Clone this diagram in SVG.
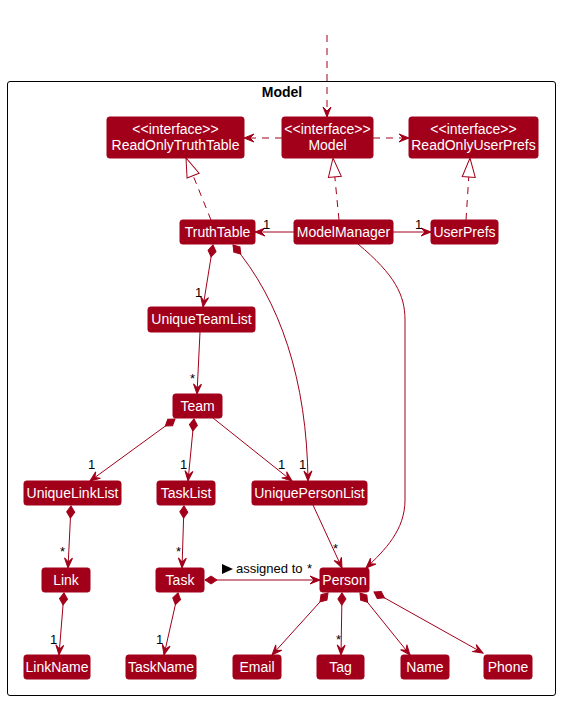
<svg xmlns="http://www.w3.org/2000/svg" width="561" height="701" viewBox="0 0 561 701">
<style>
.n rect{fill:#A2001A;stroke:#A2001A;stroke-width:1}
.n text{fill:#FFFFFF;font-family:"Liberation Sans",Arial,sans-serif;font-size:14px;text-anchor:middle}
.e{fill:none;stroke:#A2001A;stroke-width:1}
.d{stroke-dasharray:7,6}
.l{fill:#000;font-family:"Liberation Sans",Arial,sans-serif;font-size:13px}
</style>
<defs>
<marker id="arr" markerUnits="userSpaceOnUse" markerWidth="12" markerHeight="10" refX="10" refY="4" orient="auto" overflow="visible">
<path d="M0,0 L10,4 L0,8 L4,4 Z" fill="#A2001A" stroke="#A2001A" stroke-width="1"/>
</marker>
<marker id="tri" markerUnits="userSpaceOnUse" markerWidth="20" markerHeight="14" refX="19" refY="6.5" orient="auto" overflow="visible">
<path d="M0,0 L19,6.5 L0,13 Z" fill="#FFFFFF" stroke="#A2001A" stroke-width="1"/>
</marker>
<marker id="dia" markerUnits="userSpaceOnUse" markerWidth="14" markerHeight="10" refX="0" refY="4" orient="auto" overflow="visible">
<path d="M0,4 L6,0 L12,4 L6,8 Z" fill="#A2001A" stroke="#A2001A" stroke-width="1"/>
</marker>
</defs>
<rect width="561" height="701" fill="#FFFFFF"/>
<g id="package-Model">
<rect x="7.5" y="81.5" width="548" height="614" rx="2.5" fill="none" stroke="#000000" stroke-width="1"/>
<text x="282" y="97" font-family="Liberation Sans,Arial,sans-serif" font-size="14" font-weight="bold" text-anchor="middle">Model</text>
</g>
<g id="connectors">
<path class="e d" d="M327,35 L327,117" marker-end="url(#arr)"/>
<path class="e d" d="M282,138 L244,138" marker-end="url(#arr)"/>
<path class="e d" d="M373,138 L409,138" marker-end="url(#arr)"/>
<path class="e d" d="M211,220 L186,158" marker-end="url(#tri)"/>
<path class="e d" d="M339,220 L333,158" marker-end="url(#tri)"/>
<path class="e d" d="M466,220 L470,158" marker-end="url(#tri)"/>
<path class="e" d="M294,232 L255,232" marker-end="url(#arr)"/>
<text class="l" x="263" y="229">1</text>
<path class="e" d="M393,232 L431,232" marker-end="url(#arr)"/>
<text class="l" x="415" y="229">1</text>
<path class="e" d="M213,245 L203,307" marker-start="url(#dia)" marker-end="url(#arr)"/>
<text class="l" x="195" y="297">1</text>
<path class="e" d="M233,245 C280,300 307,380 308,481" marker-start="url(#dia)" marker-end="url(#arr)"/>
<text class="l" x="299" y="469">1</text>
<path class="e" d="M358,244 C395,275 405,295 405,320 L405,500 C405,530 385,550 366,568" marker-end="url(#arr)"/>
<path class="e" d="M200,332 L197,394" marker-end="url(#arr)"/>
<text class="l" x="190" y="383">*</text>
<path class="e" d="M175,419 L90,481" marker-start="url(#dia)" marker-end="url(#arr)"/>
<text class="l" x="88" y="469">1</text>
<path class="e" d="M194,419 L188,481" marker-start="url(#dia)" marker-end="url(#arr)"/>
<text class="l" x="180" y="469">1</text>
<path class="e" d="M213,418 L292,481" marker-end="url(#arr)"/>
<text class="l" x="278" y="469">1</text>
<path class="e" d="M313,505 L342,568" marker-end="url(#arr)"/>
<text class="l" x="333" y="553">*</text>
<path class="e" d="M71,506 L68,568" marker-start="url(#dia)" marker-end="url(#arr)"/>
<text class="l" x="60" y="556">*</text>
<path class="e" d="M184,506 L182,568" marker-start="url(#dia)" marker-end="url(#arr)"/>
<text class="l" x="176" y="556">*</text>
<path class="e" d="M205,580 L320,580" marker-start="url(#dia)" marker-end="url(#arr)"/>
<path d="M222,564 L233,569 L222,574 Z" fill="#000"/>
<text class="l" x="236" y="573">assigned to</text>
<text class="l" x="307" y="573">*</text>
<path class="e" d="M64,593 L59,655" marker-start="url(#dia)" marker-end="url(#arr)"/>
<text class="l" x="50" y="644">1</text>
<path class="e" d="M178,593 L164,655" marker-start="url(#dia)" marker-end="url(#arr)"/>
<text class="l" x="156" y="644">1</text>
<path class="e" d="M328,593 L272,655" marker-start="url(#dia)" marker-end="url(#arr)"/>
<path class="e" d="M342,593 L341,655" marker-start="url(#dia)" marker-end="url(#arr)"/>
<text class="l" x="336" y="644">*</text>
<path class="e" d="M360,593 L410,655" marker-start="url(#dia)" marker-end="url(#arr)"/>
<path class="e" d="M374,592 L483,653" marker-start="url(#dia)" marker-end="url(#arr)"/>
</g>
<g id="ReadOnlyTruthTable" class="n"><rect x="107" y="117" width="137" height="41" rx="2.5"/><text x="175.5" y="134">&lt;&lt;interface&gt;&gt;</text><text x="175.5" y="150">ReadOnlyTruthTable</text></g>
<g id="Model" class="n"><rect x="282" y="117" width="91" height="41" rx="2.5"/><text x="327.5" y="134">&lt;&lt;interface&gt;&gt;</text><text x="327.5" y="150">Model</text></g>
<g id="ReadOnlyUserPrefs" class="n"><rect x="409" y="117" width="129" height="41" rx="2.5"/><text x="473.5" y="134">&lt;&lt;interface&gt;&gt;</text><text x="473.5" y="150">ReadOnlyUserPrefs</text></g>
<g id="TruthTable" class="n"><rect x="180" y="220" width="75" height="24" rx="2.5"/><text x="217.5" y="237">TruthTable</text></g>
<g id="ModelManager" class="n"><rect x="294" y="220" width="99" height="24" rx="2.5"/><text x="343.5" y="237">ModelManager</text></g>
<g id="UserPrefs" class="n"><rect x="431" y="220" width="67" height="24" rx="2.5"/><text x="464.5" y="237">UserPrefs</text></g>
<g id="UniqueTeamList" class="n"><rect x="148" y="307" width="107" height="25" rx="2.5"/><text x="201.5" y="324">UniqueTeamList</text></g>
<g id="Team" class="n"><rect x="173" y="394" width="49" height="24" rx="2.5"/><text x="197.5" y="411">Team</text></g>
<g id="UniqueLinkList" class="n"><rect x="24" y="481" width="97" height="24" rx="2.5"/><text x="72.5" y="498">UniqueLinkList</text></g>
<g id="TaskList" class="n"><rect x="157" y="481" width="58" height="24" rx="2.5"/><text x="186" y="498">TaskList</text></g>
<g id="UniquePersonList" class="n"><rect x="252" y="481" width="115" height="24" rx="2.5"/><text x="309.5" y="498">UniquePersonList</text></g>
<g id="Link" class="n"><rect x="42" y="568" width="48" height="24" rx="2.5"/><text x="66" y="585">Link</text></g>
<g id="Task" class="n"><rect x="156" y="568" width="48" height="24" rx="2.5"/><text x="180" y="585">Task</text></g>
<g id="Person" class="n"><rect x="320" y="568" width="49" height="24" rx="2.5"/><text x="344.5" y="585">Person</text></g>
<g id="LinkName" class="n"><rect x="24" y="655" width="66" height="24" rx="2.5"/><text x="57" y="672">LinkName</text></g>
<g id="TaskName" class="n"><rect x="126" y="655" width="70" height="24" rx="2.5"/><text x="161" y="672">TaskName</text></g>
<g id="Email" class="n"><rect x="233" y="655" width="48" height="24" rx="2.5"/><text x="257" y="672">Email</text></g>
<g id="Tag" class="n"><rect x="317" y="655" width="47" height="24" rx="2.5"/><text x="340.5" y="672">Tag</text></g>
<g id="Name" class="n"><rect x="401" y="655" width="48" height="24" rx="2.5"/><text x="425" y="672">Name</text></g>
<g id="Phone" class="n"><rect x="484" y="655" width="48" height="24" rx="2.5"/><text x="508" y="672">Phone</text></g>
</svg>
